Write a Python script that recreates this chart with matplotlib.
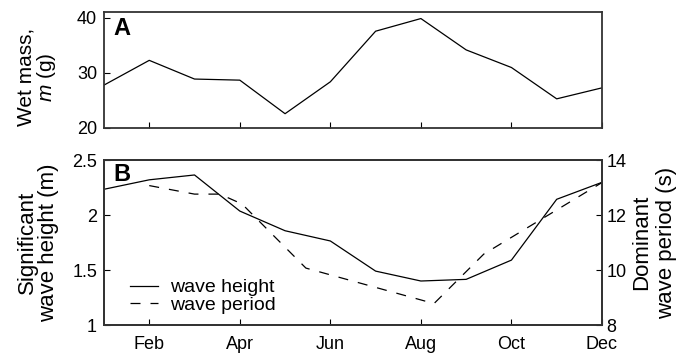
import numpy as np
import matplotlib
matplotlib.use("Agg")
import matplotlib.pyplot as plt

plt.rcParams['font.family'] = ['Liberation Sans', 'DejaVu Sans']
plt.rcParams['mathtext.fontset'] = 'custom'
plt.rcParams['mathtext.it'] = 'Liberation Sans:italic'
plt.rcParams['mathtext.rm'] = 'Liberation Sans'

# monthly values (1 = Jan ... 12 = Dec)
months = np.arange(1, 13)
wet_mass = [27.8, 32.3, 28.9, 28.7, 22.6, 28.4, 37.6, 39.9, 34.2, 31.0, 25.3, 27.3]
wave_height = [2.234, 2.32, 2.364, 2.036, 1.857, 1.764, 1.49, 1.40, 1.415, 1.59, 2.143, 2.297]

period_month = [2.0, 3.0, 3.56, 4.05, 5.46, 8.29, 9.39, 12.0]
wave_period = [13.07, 12.76, 12.76, 12.4, 10.07, 8.78, 10.58, 13.18]

tick_months = [2, 4, 6, 8, 10, 12]
tick_names = ['Feb', 'Apr', 'Jun', 'Aug', 'Oct', 'Dec']

fig = plt.figure(figsize=(6.96, 3.53), dpi=100)
axA = fig.add_axes([0.1494, 0.6374, 0.7155, 0.3272])
axB = fig.add_axes([0.1494, 0.0793, 0.7155, 0.4674])
axB2 = axB.twinx()

spine_col = '#333333'
tick_fs = 13

# panel A
axA.plot(months, wet_mass, color='black', lw=0.9)
axA.set_xlim(1, 12)
axA.set_ylim(20, 41)
axA.set_yticks([20, 30, 40])
axA.set_xticks(tick_months)
axA.set_xticklabels([])
axA.tick_params(direction='in', length=4, width=0.8, labelsize=tick_fs, pad=5,
                top=False, right=False)
axA.set_ylabel('Wet mass,\n$m$ (g)', fontsize=15, linespacing=1.0)
axA.yaxis.set_label_coords(-0.092, 0.44)
axA.text(0.018, 0.965, 'A', transform=axA.transAxes, fontsize=17,
         fontweight='bold', va='top', ha='left')

# panel B
axB.plot(months, wave_height, color='black', lw=0.9, label='wave height')
axB2.plot(period_month, wave_period, color='black', lw=0.9,
          linestyle=(0, (8, 8)), label='wave period')
axB.set_xlim(1, 12)
axB.set_ylim(1, 2.5)
axB.set_yticks([1, 1.5, 2, 2.5])
axB.set_yticklabels(['1', '1.5', '2', '2.5'])
axB2.set_ylim(8, 14)
axB2.set_yticks([8, 10, 12, 14])
axB.set_xticks(tick_months)
axB.set_xticklabels(tick_names)
axB.tick_params(direction='in', length=4, width=0.8, labelsize=tick_fs, pad=5,
                top=False, right=False)
axB.tick_params(axis='x', pad=8)
axB2.tick_params(direction='in', length=4, width=0.8, labelsize=tick_fs, pad=3)
axB.set_ylabel('Significant\nwave height (m)', fontsize=16, linespacing=1.0)
axB.yaxis.set_label_coords(-0.090, 0.5)
axB2.set_ylabel('Dominant\nwave period (s)', fontsize=16, linespacing=1.25)
axB2.yaxis.set_label_coords(1.058, 0.5)
axB.text(0.018, 0.979, 'B', transform=axB.transAxes, fontsize=17,
         fontweight='bold', va='top', ha='left')

h1, l1 = axB.get_legend_handles_labels()
h2, l2 = axB2.get_legend_handles_labels()
axB.legend(h1 + h2, l1 + l2, loc='lower left', bbox_to_anchor=(0.052, 0.067),
           frameon=False, fontsize=14, borderpad=0, borderaxespad=0,
           handlelength=1.43, handletextpad=0.65, labelspacing=0.0)

for ax in (axA, axB, axB2):
    for s in ax.spines.values():
        s.set_color(spine_col)
        s.set_linewidth(1.3)

fig.savefig('out.png', dpi=100)
